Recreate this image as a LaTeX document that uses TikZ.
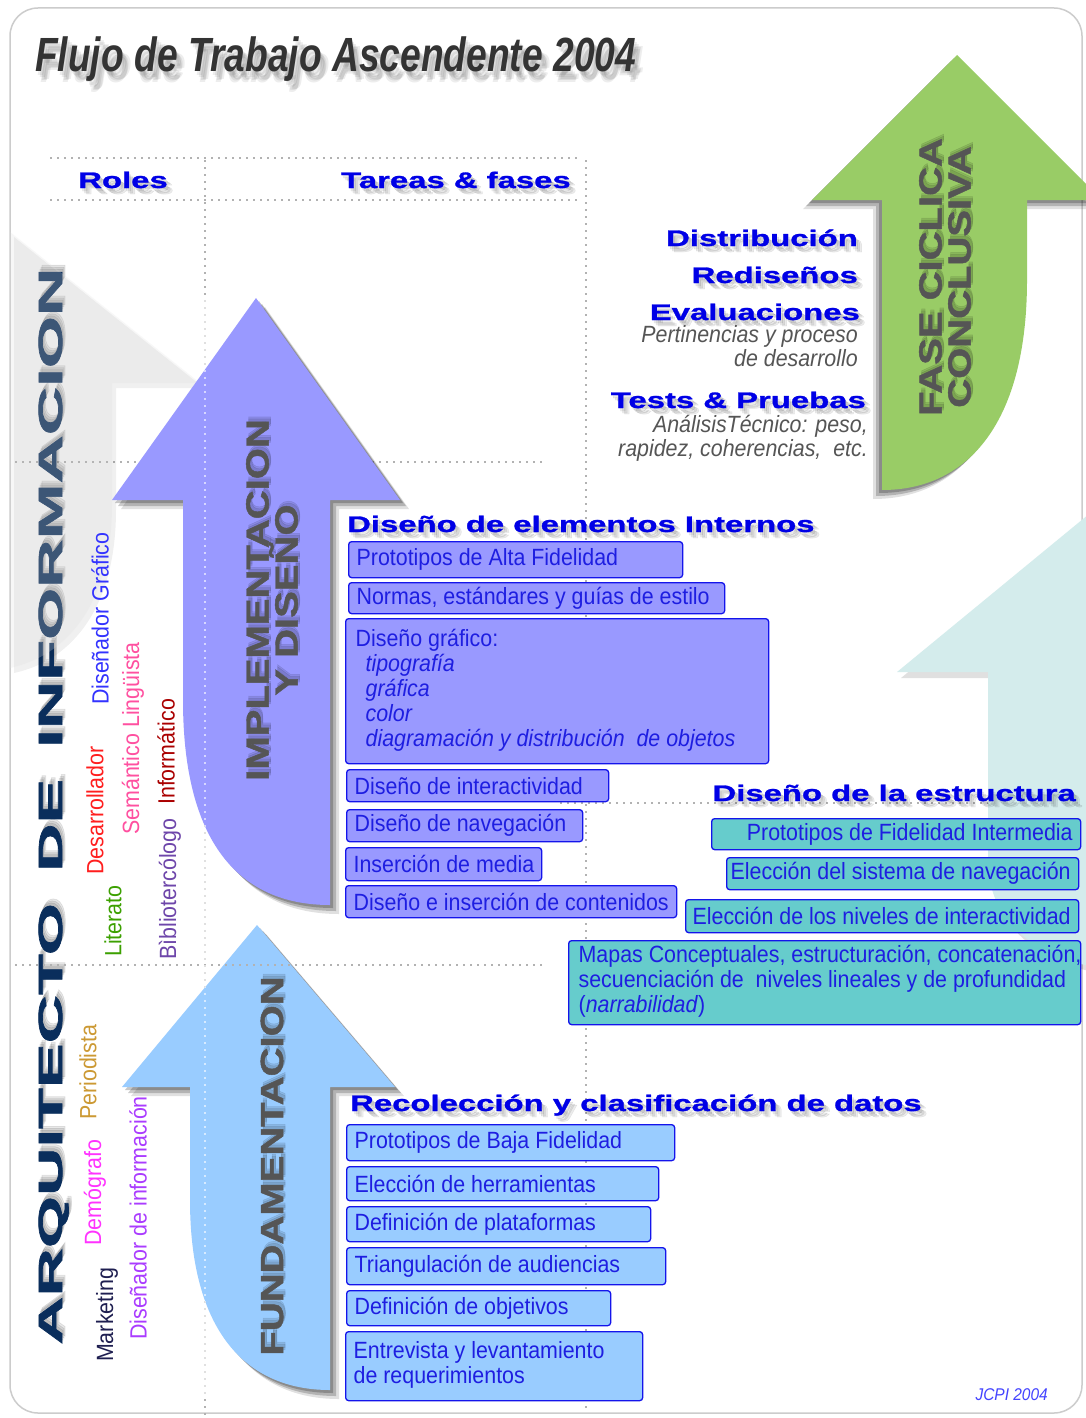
\documentclass[tikz,border=0pt]{standalone}
\usepackage{fontspec}
\setmainfont{Liberation Sans}
\newfontfamily\fntN[FakeStretch=0.91]{Liberation Sans}
\newfontfamily\fntW[FakeStretch=1.46,FakeBold=1.2]{Liberation Sans}
\newfontfamily\fntB[FakeStretch=2.0,FakeBold=2]{Liberation Sans}
\newfontfamily\fntA[FakeStretch=1.25,FakeBold=1.5]{Liberation Sans}
\newfontfamily\fntT[FakeStretch=0.775]{Liberation Sans}
\definecolor{hblue}{RGB}{0,0,230}
\definecolor{tblue}{RGB}{30,30,225}
\definecolor{bline}{RGB}{20,20,235}
\definecolor{purp}{RGB}{153,153,255}
\definecolor{tealb}{RGB}{102,204,204}
\definecolor{lblue}{RGB}{153,204,255}
\definecolor{agreen}{RGB}{153,204,102}
\definecolor{navyb}{RGB}{10,46,92}
\definecolor{paleteal}{RGB}{212,236,236}
\definecolor{dgray}{RGB}{85,85,85}
\definecolor{ttl}{RGB}{51,51,51}
\newcommand\purplepath{(256,298) -- (400,500) -- (330,500) -- (330,905) .. controls (245,905) and (183,850) .. (183,700) -- (183,500) -- (112,500) -- cycle}
\newcommand\bluepath{(257,925) -- (395,1087) -- (330,1087) -- (330,1390) .. controls (245,1390) and (190,1330) .. (190,1200) -- (190,1087) -- (122,1087) -- cycle}
\newcommand\greenpath{(957,55) -- (1102,200) -- (1027,200) -- (1027,280) .. controls (1027,420) and (970,490) .. (882,490) -- (882,200) -- (812,200) -- cycle}
\newcommand\graypath{(10,232) -- (200,383) -- (112,383) -- (112,505) .. controls (112,600) and (70,655) .. (10,668) -- cycle}
\newcommand\palepath{(897,672) -- (1100,505) -- (1100,968) .. controls (1040,958) and (988,925) .. (988,860) -- (988,672) -- cycle}
\newcommand\lns[2]{\makebox[#1][l]{\begin{tabular}{@{}l@{}}#2\end{tabular}}}
\tikzset{
 hd/.style={font=\fntW\bfseries\fontsize{22.5}{24}\selectfont, text=hblue, inner sep=0pt},
 hdsh/.style={hd, text=black, text opacity=0.08},
 bx/.style={draw=bline, line width=1.3pt, rounded corners=3pt, anchor=north west, inner xsep=8pt, inner ysep=0pt, font=\fntN\fontsize{23.5}{25}\selectfont, text=tblue},
 pb/.style={bx, fill=purp},
 tb/.style={bx, fill=tealb},
 lb/.style={bx, fill=lblue},
 role/.style={rotate=90, anchor=west, inner sep=0pt, font=\fntN\fontsize{23.5}{25}\selectfont},
 dots/.style={gray!60, line width=2.3pt, dash pattern=on 2.3pt off 4.7pt},
 gi/.style={font=\fntN\itshape\fontsize{23.5}{25}\selectfont, text=dgray, inner sep=0pt, anchor=base east},
 arrtxt/.style={font=\fntA\bfseries\fontsize{32}{29}\selectfont, text=dgray, rotate=90, align=center, inner sep=0pt},
 arrtxtsh/.style={arrtxt, text=black, text opacity=0.1},
 big/.style={font=\fntB\bfseries\fontsize{33.5}{34}\selectfont, text=navyb, rotate=90, anchor=base west, inner sep=0pt},
 bigsh/.style={big, text=black, text opacity=0.09},
 ttlst/.style={font=\fntT\bfseries\itshape\fontsize{48}{50}\selectfont, text=ttl, anchor=base west, inner sep=0pt},
 ttlsh/.style={ttlst, text=black, text opacity=0.07},
}
\begin{document}
\begin{tikzpicture}[x=1pt,y=-1pt]
\useasboundingbox (0,0) rectangle (1086,1418);
\clip (0,0) rectangle (1086,1418);
\fill[white] (0,0) rectangle (1086,1418);
\draw[gray!40, line width=1.5pt, rounded corners=28pt] (10,8) rectangle (1082,1413);

% dotted grid
\draw[dots] (50,158) -- (580,158);
\draw[dots] (50,200) -- (580,200);
\draw[dots] (205,160) -- (205,1418);
\draw[dots] (586,160) -- (586,1410);
\draw[dots] (15,462) -- (545,462);
\draw[dots] (560,803) -- (1080,803);

% big role title with soft shadow
\foreach \dx/\dy in {3/1,5/2,7/3} {
  \node[bigsh, xshift=\dx, yshift=-\dy] (bA\dx) at (62,1345) {ARQUITECTO};
  \node[bigsh, xshift=\dx, yshift=-\dy] (bD\dx) at (62,872) {DE};
  \node[bigsh, xshift=\dx, yshift=-\dy] (bI\dx) at (62,748) {INFORMACION};
}
\node[big] (arq) at (62,1345) {ARQUITECTO};
\node[big] (de) at (62,872) {DE};
\node[big] (inf) at (62,748) {INFORMACION};

% background arrows
\fill[black, opacity=0.06, shift={(4,5)}] \graypath;
\fill[gray!25, fill opacity=0.24] \graypath;
\fill[black, opacity=0.12, shift={(4,6)}] \palepath;
\fill[paleteal] \palepath;

% main arrows with shadows
\foreach \s/\o in {9/0.12,6/0.2,3/0.22} {
  \fill[black, opacity=\o, shift={(\s,\s)}] \purplepath;
  \fill[black, opacity=\o, shift={(\s,\s)}] \bluepath;
  \fill[black, opacity=\o, shift={(-\s,\s)}] \greenpath;
}
\fill[purp] \purplepath;
\fill[lblue] \bluepath;
\fill[agreen] \greenpath;
\draw[dots] (15,965) -- (542,965);
\draw[dots, white, opacity=0.6] (205,300) -- (205,1395);

% arrow labels
\foreach \dx in {3,5} {
  \node[arrtxtsh, xshift=\dx, yshift=-2] (impS\dx) at (272,600) {IMPLEMENTACION\\Y DISEÑO};
  \node[arrtxtsh, xshift=\dx, yshift=-2] (funS\dx) at (272,1166) {FUNDAMENTACION};
  \node[arrtxtsh, xshift=\dx, yshift=-2] (faseS\dx) at (945,277) {FASE CICLICA\\CONCLUSIVA};
}
\node[arrtxt] (imp) at (272,600) {IMPLEMENTACION\\Y DISEÑO};
\node[arrtxt] (fun) at (272,1166) {FUNDAMENTACION};
\node[arrtxt] (fase) at (945,277) {FASE CICLICA\\CONCLUSIVA};

% title
\foreach \dx/\dy in {2/4,4/6,6/9,5/11,8/8} \node[ttlsh, xshift=\dx, yshift=-\dy] (tsh\dx\dy) at (35,72) {Flujo de Trabajo Ascendente 2004};
\node[ttlst] (title) at (35,72) {Flujo de Trabajo Ascendente 2004};

% column headers
\foreach \dx/\dy in {2/3,4/5,6/6} {
  \node[hdsh, anchor=base, xshift=\dx, yshift=-\dy] (rolesS\dx) at (123,188) {Roles};
  \node[hdsh, anchor=base, xshift=\dx, yshift=-\dy] (tarS\dx) at (456,188) {Tareas \& fases};
}
\node[hd, anchor=base] (roles) at (123,188) {Roles};
\node[hd, anchor=base] (tar) at (456,188) {Tareas \& fases};

% roles
\node[role, text={rgb,255:red,51;green,51;blue,255}] (r1) at (100,705) {Diseñador Gráfico};
\node[role, text={rgb,255:red,255;green,30;blue,30}] (r2) at (95,875) {Desarrollador};
\node[role, text={rgb,255:red,255;green,80;blue,160}] (r3) at (133,835) {Semántico Lingüista};
\node[role, text={rgb,255:red,170;green,0;blue,0}] (r4) at (166,805) {Informático};
\node[role, text={rgb,255:red,60;green,160;blue,0}] (r5) at (113,957) {Literato};
\node[role, text={rgb,255:red,110;green,70;blue,170}] (r6) at (170,960) {Bìbliotercólogo};
\node[role, text={rgb,255:red,204;green,153;blue,51}] (r7) at (88,1120) {Periodista};
\node[role, text={rgb,255:red,255;green,51;blue,255}] (r8) at (95,1246) {Demógrafo};
\node[role, text={rgb,255:red,30;green,30;blue,80}] (r9) at (107,1362) {Marketing};
\node[role, text={rgb,255:red,170;green,60;blue,255}] (r10) at (138,1340) {Diseñador de información};

% right column (final phase)
\foreach \dx/\dy in {2/3,4/5,6/6} {
  \node[hdsh, anchor=base east, xshift=\dx, yshift=-\dy] (distS\dx) at (858,246) {Distribución};
  \node[hdsh, anchor=base east, xshift=\dx, yshift=-\dy] (redS\dx) at (858,283) {Rediseños};
  \node[hdsh, anchor=base east, xshift=\dx, yshift=-\dy] (evaS\dx) at (860,320) {Evaluaciones};
  \node[hdsh, anchor=base east, xshift=\dx, yshift=-\dy] (tesS\dx) at (866,408) {Tests \& Pruebas};
  \node[hdsh, anchor=base west, xshift=\dx, yshift=-\dy] (h1S\dx) at (347,532) {Diseño de elementos Internos};
  \node[hdsh, anchor=base east, xshift=\dx, yshift=-\dy] (h2S\dx) at (1076,801) {Diseño de la estructura};
  \node[hdsh, anchor=base west, xshift=\dx, yshift=-\dy] (h3S\dx) at (350,1111) {Recolección y clasificación de datos};
}
\node[hd, anchor=base east] (dist) at (858,246) {Distribución};
\node[hd, anchor=base east] (red) at (858,283) {Rediseños};
\node[hd, anchor=base east] (eva) at (860,320) {Evaluaciones};
\node[gi] (eva1) at (858,342) {Pertinencias y proceso};
\node[gi] (eva2) at (858,366) {de desarrollo};
\node[hd, anchor=base east] (tes) at (866,408) {Tests \& Pruebas};
\node[gi] (tes1) at (868,432) {AnálisisTécnico: peso,};
\node[gi] (tes2) at (868,456) {rapidez, coherencias,\ \ etc.};

% internal elements (purple)
\node[hd, anchor=base west] (h1) at (347,532) {Diseño de elementos Internos};
\node[pb, minimum width=334, minimum height=36] (ai1) at (348,541) {\makebox[318pt][l]{Prototipos de Alta Fidelidad}};
\node[pb, minimum width=376, minimum height=31] (ai2) at (348,582) {\makebox[360pt][l]{Normas, estándares y guías de estilo}};
\node[pb, minimum width=423, minimum height=145, inner xsep=10pt] (ai3) at (345,618) {\lns{403pt}{Diseño gráfico:\\
\hspace*{10pt}\textit{tipografía}\\
\hspace*{10pt}\textit{gráfica}\\
\hspace*{10pt}\textit{color}\\
\hspace*{10pt}\textit{diagramación y distribución\ \ de objetos}}};
\node[pb, minimum width=262, minimum height=32] (ai4) at (346,769) {\makebox[246pt][l]{Diseño de interactividad}};
\node[pb, minimum width=236, minimum height=32] (ai5) at (346,809) {\makebox[220pt][l]{Diseño de navegación}};
\node[pb, minimum width=196, minimum height=33] (ai6) at (345,847) {\makebox[180pt][l]{Inserción de media}};
\node[pb, minimum width=331, minimum height=32] (ai7) at (345,885) {\makebox[315pt][l]{Diseño e inserción de contenidos}};

% structure (teal)
\node[hd, anchor=base east] (h2) at (1076,801) {Diseño de la estructura};
\node[tb, minimum width=369, minimum height=31] (es1) at (711,818) {\makebox[353pt][r]{Prototipos de Fidelidad Intermedia}};
\node[tb, minimum width=352, minimum height=32] (es2) at (726,857) {\makebox[336pt][r]{Elección del sistema de navegación}};
\node[tb, minimum width=393, minimum height=33] (es3) at (685,899) {\makebox[377pt][r]{Elección de los niveles de interactividad}};
\node[tb, minimum width=512, minimum height=84, inner xsep=10pt] (es4) at (568,940) {\lns{492pt}{Mapas Conceptuales, estructuración, concatenación,\\
secuenciación de\ \ niveles lineales y de profundidad\\
(\textit{narrabilidad})}};

% data collection (light blue)
\node[hd, anchor=base west] (h3) at (350,1111) {Recolección y clasificación de datos};
\node[lb, minimum width=328, minimum height=36] (rc1) at (346,1124) {\makebox[312pt][l]{Prototipos de Baja Fidelidad}};
\node[lb, minimum width=312, minimum height=34] (rc2) at (346,1166) {\makebox[296pt][l]{Elección de herramientas}};
\node[lb, minimum width=304, minimum height=35] (rc3) at (346,1206) {\makebox[288pt][l]{Definición de plataformas}};
\node[lb, minimum width=319, minimum height=37] (rc4) at (346,1247) {\makebox[303pt][l]{Triangulación de audiencias}};
\node[lb, minimum width=264, minimum height=35] (rc5) at (346,1290) {\makebox[248pt][l]{Definición de objetivos}};
\node[lb, minimum width=297, minimum height=69] (rc6) at (345,1331) {\lns{281pt}{Entrevista y levantamiento\\de requerimientos}};

% signature
\node[font=\fntN\itshape\fontsize{17}{18}\selectfont, text={rgb,255:red,68;green,68;blue,255}, anchor=base east, inner sep=0pt] (sig) at (1048,1400) {JCPI 2004};
\end{tikzpicture}
\end{document}
